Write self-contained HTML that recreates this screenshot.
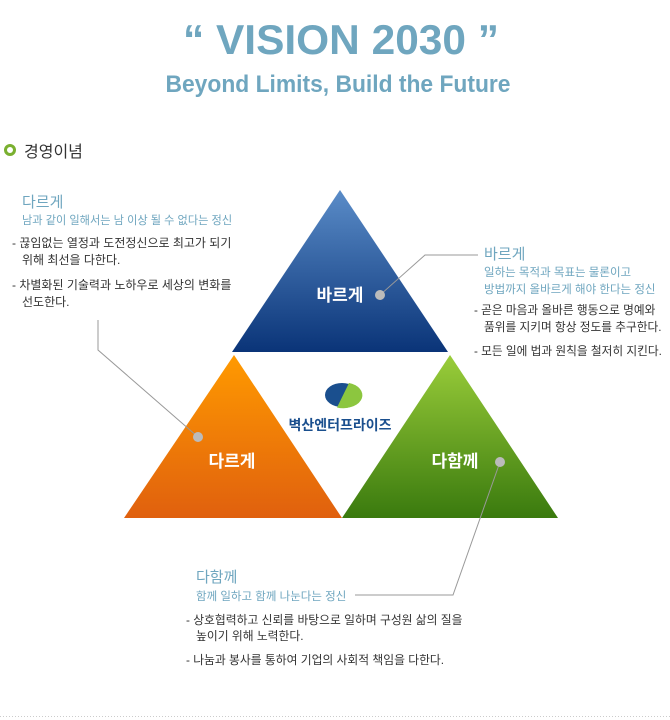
<!DOCTYPE html>
<html><head><meta charset="utf-8"><style>
html,body{margin:0;padding:0;background:#fff;width:670px;height:720px;overflow:hidden}
text{font-family:"Liberation Sans","Noto Sans CJK KR",sans-serif}
</style></head><body>
<svg width="670" height="720" viewBox="0 0 670 720" xmlns="http://www.w3.org/2000/svg">
<defs>
<linearGradient id="gb" x1="0" y1="0" x2="0" y2="1"><stop offset="0" stop-color="#5a8cc8"/><stop offset="1" stop-color="#0a3478"/></linearGradient>
<linearGradient id="go" x1="0" y1="0" x2="0" y2="1"><stop offset="0" stop-color="#ff9a00"/><stop offset="1" stop-color="#e0600e"/></linearGradient>
<linearGradient id="gg" x1="0" y1="0" x2="0" y2="1"><stop offset="0" stop-color="#9acd3a"/><stop offset="1" stop-color="#3a7a0e"/></linearGradient>
</defs>
<text x="341" y="54" text-anchor="middle" font-size="42" font-weight="bold" fill="#6fa6bf" textLength="316" lengthAdjust="spacingAndGlyphs">“ VISION 2030 ”</text>
<text x="338" y="92" text-anchor="middle" font-size="24" font-weight="bold" fill="#6fa6bf" textLength="345" lengthAdjust="spacingAndGlyphs">Beyond Limits, Build the Future</text>
<circle cx="10" cy="150" r="4.5" fill="none" stroke="#7ab030" stroke-width="3"/>
<text x="24" y="157" font-size="16" fill="#333">경영이념</text>

<polygon points="340,190 232,352 448,352" fill="url(#gb)"/>
<polygon points="234,355 124,518 342,518" fill="url(#go)"/>
<polygon points="450,355 342,518 558,518" fill="url(#gg)"/>

<g stroke="#999" stroke-width="1" fill="none">
<polyline points="98,320 98,350 198,437"/>
<polyline points="380,295 425,255 478,255"/>
<polyline points="500,462 453,595 355,595"/>
</g>
<circle cx="380" cy="295" r="5" fill="#bbb"/>
<circle cx="198" cy="437" r="5" fill="#bbb"/>
<circle cx="500" cy="462" r="5" fill="#bbb"/>

<text x="340" y="301" text-anchor="middle" font-size="17" font-weight="bold" fill="#fff">바르게</text>
<text x="232" y="467" text-anchor="middle" font-size="17" font-weight="bold" fill="#fff">다르게</text>
<text x="455" y="467" text-anchor="middle" font-size="17" font-weight="bold" fill="#fff">다함께</text>

<ellipse cx="342" cy="395" rx="17" ry="12" fill="#1a4f8e"/>
<path d="M349,383 A17,12 0 0 1 340,407.5 Z" fill="#8cc63f"/>
<path d="M349,383 L337,407.5 A17,12.5 0 0 0 349,383 Z" fill="#8cc63f"/>
<text x="340" y="430" text-anchor="middle" font-size="14" font-weight="bold" fill="#1a4f8e">벽산엔터프라이즈</text>

<g font-size="12" fill="#333">
<text x="22" y="207" font-size="15" fill="#6fa6bf">다르게</text>
<text x="22" y="224" font-size="11.2" fill="#6fa6bf">남과 같이 일해서는 남 이상 될 수 없다는 정신</text>
<text x="12" y="247">- 끊임없는 열정과 도전정신으로 최고가 되기</text>
<text x="22" y="264">위해 최선을 다한다.</text>
<text x="12" y="289">- 차별화된 기술력과 노하우로 세상의 변화를</text>
<text x="22" y="306">선도한다.</text>

<text x="484" y="259" font-size="15" fill="#6fa6bf">바르게</text>
<text x="484" y="276" font-size="11.5" fill="#6fa6bf">일하는 목적과 목표는 물론이고</text>
<text x="484" y="293" font-size="11.5" fill="#6fa6bf">방법까지 올바르게 해야 한다는 정신</text>
<text x="474" y="314" font-size="11.7">- 곧은 마음과 올바른 행동으로 명예와</text>
<text x="484" y="331" font-size="11.7">품위를 지키며 항상 정도를 추구한다.</text>
<text x="474" y="355" font-size="11.7">- 모든 일에 법과 원칙을 철저히 지킨다.</text>

<text x="196" y="582" font-size="15" fill="#6fa6bf">다함께</text>
<text x="196" y="600" font-size="11.5" fill="#6fa6bf">함께 일하고 함께 나눈다는 정신</text>
<text x="186" y="624" font-size="11.8">- 상호협력하고 신뢰를 바탕으로 일하며 구성원 삶의 질을</text>
<text x="196" y="640" font-size="11.8">높이기 위해 노력한다.</text>
<text x="186" y="664" font-size="11.8">- 나눔과 봉사를 통하여 기업의 사회적 책임을 다한다.</text>
</g>
<line x1="0" y1="716.5" x2="670" y2="716.5" stroke="#ccc" stroke-dasharray="1,2"/>
</svg>
</body></html>
